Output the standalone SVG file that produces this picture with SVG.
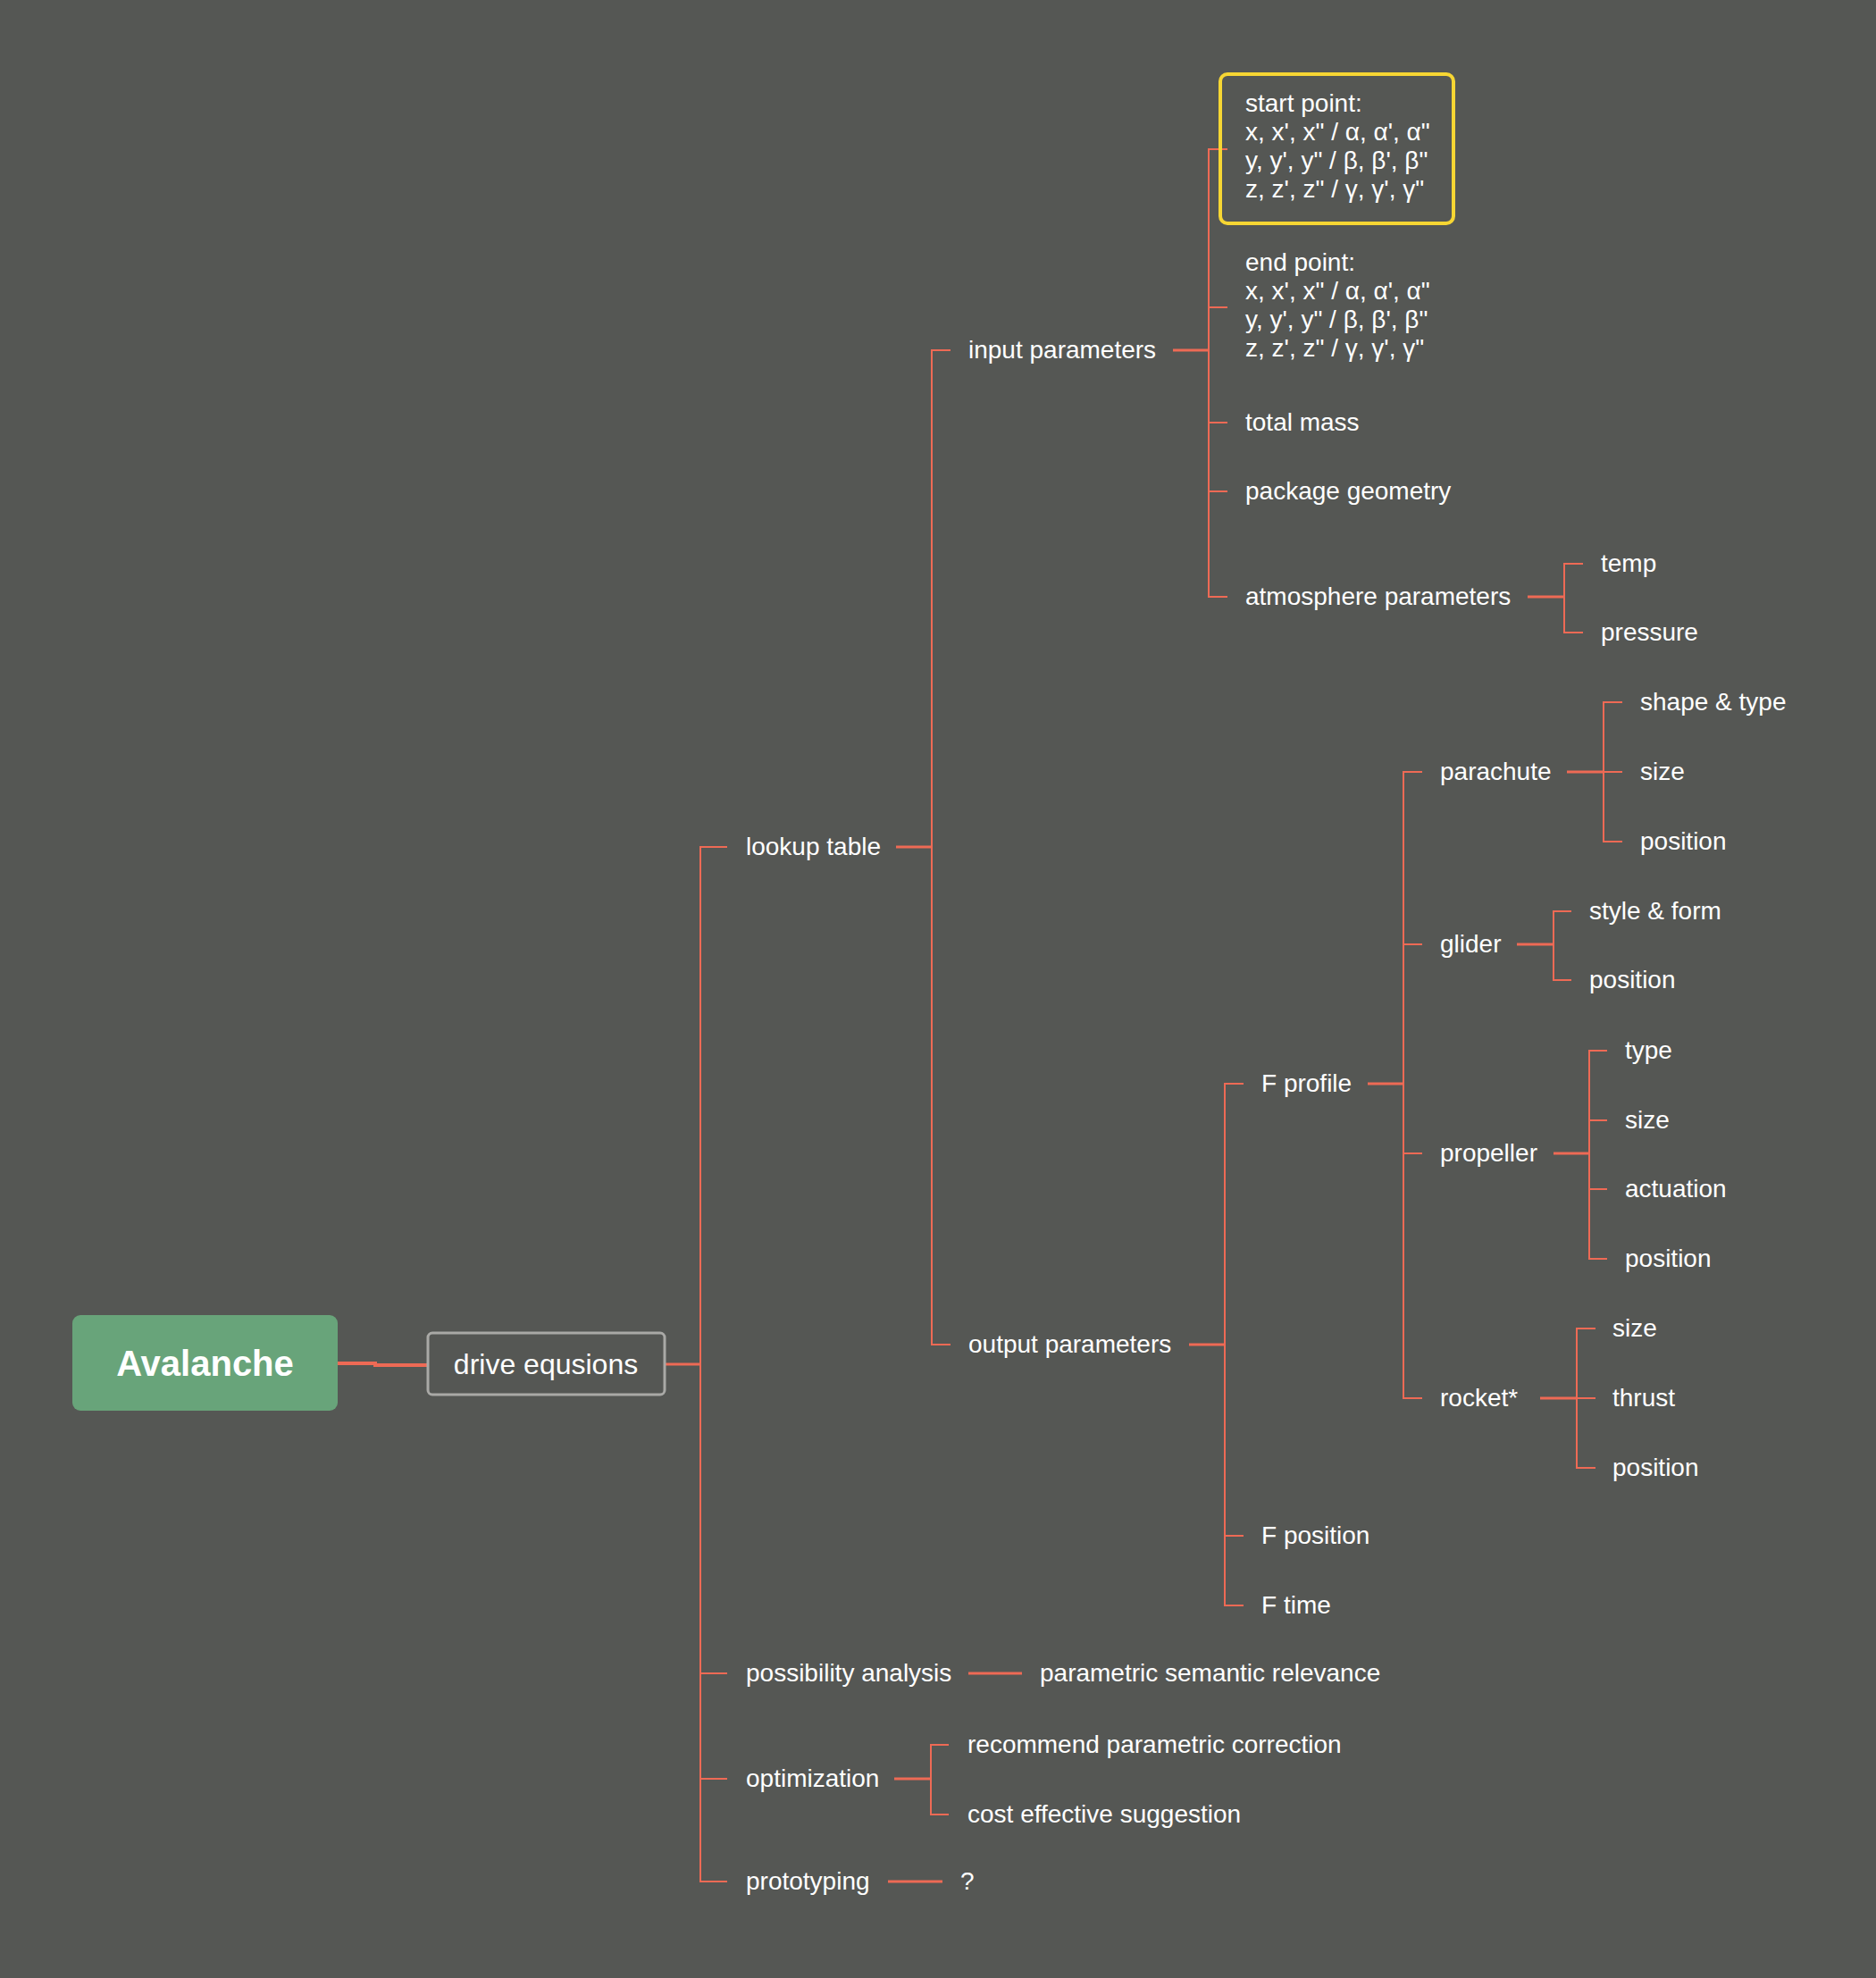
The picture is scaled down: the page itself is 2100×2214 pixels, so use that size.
<svg xmlns="http://www.w3.org/2000/svg" width="2100" height="2214" viewBox="0 0 2100 2214">
<style>
.t{font-family:"Liberation Sans",Arial,sans-serif;font-size:28px;fill:#FFFFFF}
.ln{fill:none;stroke:#EE6A55;stroke-width:2}
.lp{fill:none;stroke:#EE6A55;stroke-width:3}
</style>
<rect x="0" y="0" width="2100" height="2214" fill="#555754"/>
<g id="connectors">
<path class="ln" d="M378,1526 H420 V1528 H478" stroke-width="4" style="stroke-width:4"/>
<path class="lp" d="M744,1527 H784"/>
<path class="ln" d="M814,948 H784 V2106 H814 M784,1873 H814 M784,1991 H814"/>
<path class="lp" d="M1003,948 H1043"/>
<path class="ln" d="M1064,392 H1043 V1505 H1064"/>
<path class="lp" d="M1313,392 H1353"/>
<path class="ln" d="M1374,167 H1353 V668 H1374 M1353,344 H1374 M1353,473 H1374 M1353,550 H1374"/>
<path class="lp" d="M1710,668 H1751"/>
<path class="ln" d="M1772,631 H1751 V708 H1772"/>
<path class="lp" d="M1331,1505 H1371"/>
<path class="ln" d="M1392,1213 H1371 V1797 H1392 M1371,1719 H1392"/>
<path class="lp" d="M1531,1213 H1571"/>
<path class="ln" d="M1592,864 H1571 V1565 H1592 M1571,1057 H1592 M1571,1291 H1592"/>
<path class="lp" d="M1754,864 H1795"/>
<path class="ln" d="M1816,786 H1795 V942 H1816 M1795,864 H1816"/>
<path class="lp" d="M1698,1057 H1739"/>
<path class="ln" d="M1759,1020 H1739 V1097 H1759"/>
<path class="lp" d="M1739,1291 H1779"/>
<path class="ln" d="M1799,1176 H1779 V1409 H1799 M1779,1254 H1799 M1779,1331 H1799"/>
<path class="lp" d="M1724,1565 H1765"/>
<path class="ln" d="M1786,1487 H1765 V1643 H1786 M1765,1565 H1786"/>
<path class="lp" d="M1084,1873 H1144"/>
<path class="lp" d="M1001,1991 H1042"/>
<path class="ln" d="M1062,1953 H1042 V2031 H1062"/>
<path class="lp" d="M994,2106 H1055"/>
</g>
<g id="avalanche">
<rect x="81" y="1472" width="297" height="107" rx="9" fill="#68A47A"/>
<text x="229.5" y="1540" text-anchor="middle" style="font-family:'Liberation Sans',Arial,sans-serif;font-size:40px;font-weight:bold;fill:#FFFFFF">Avalanche</text>
</g>
<g id="drive-equsions">
<rect x="479" y="1492" width="265" height="69" rx="5" fill="#555754" stroke="#A9A9A6" stroke-width="3"/>
<text x="611" y="1538" text-anchor="middle" class="t" style="font-size:32px">drive equsions</text>
</g>
<g id="lookup-table"><text class="t" x="835" y="957">lookup table</text></g>
<g id="input-parameters"><text class="t" x="1084" y="401">input parameters</text></g>
<g id="start-point">
<rect x="1366" y="83" width="261" height="167" rx="8" fill="none" stroke="#F7D633" stroke-width="4"/>
<text class="t" x="1394" y="124.5">start point:</text>
<text class="t" x="1394" y="156.5">x, x', x" / α, α', α"</text>
<text class="t" x="1394" y="188.5">y, y', y" / β, β', β"</text>
<text class="t" x="1394" y="220.5">z, z', z" / γ, γ', γ"</text>
</g>
<g id="end-point">
<text class="t" x="1394" y="303">end point:</text>
<text class="t" x="1394" y="335">x, x', x" / α, α', α"</text>
<text class="t" x="1394" y="367">y, y', y" / β, β', β"</text>
<text class="t" x="1394" y="399">z, z', z" / γ, γ', γ"</text>
</g>
<g id="total-mass"><text class="t" x="1394" y="482">total mass</text></g>
<g id="package-geometry"><text class="t" x="1394" y="559">package geometry</text></g>
<g id="atmosphere-parameters"><text class="t" x="1394" y="677">atmosphere parameters</text></g>
<g id="temp"><text class="t" x="1792" y="640">temp</text></g>
<g id="pressure"><text class="t" x="1792" y="717">pressure</text></g>
<g id="output-parameters"><text class="t" x="1084" y="1514">output parameters</text></g>
<g id="f-profile"><text class="t" x="1412" y="1222">F profile</text></g>
<g id="parachute"><text class="t" x="1612" y="873">parachute</text></g>
<g id="parachute-shape-type"><text class="t" x="1836" y="795">shape &amp; type</text></g>
<g id="parachute-size"><text class="t" x="1836" y="873">size</text></g>
<g id="parachute-position"><text class="t" x="1836" y="951">position</text></g>
<g id="glider"><text class="t" x="1612" y="1066">glider</text></g>
<g id="glider-style-form"><text class="t" x="1779" y="1029">style &amp; form</text></g>
<g id="glider-position"><text class="t" x="1779" y="1106">position</text></g>
<g id="propeller"><text class="t" x="1612" y="1300">propeller</text></g>
<g id="propeller-type"><text class="t" x="1819" y="1185">type</text></g>
<g id="propeller-size"><text class="t" x="1819" y="1263">size</text></g>
<g id="propeller-actuation"><text class="t" x="1819" y="1340">actuation</text></g>
<g id="propeller-position"><text class="t" x="1819" y="1418">position</text></g>
<g id="rocket"><text class="t" x="1612" y="1574">rocket*</text></g>
<g id="rocket-size"><text class="t" x="1805" y="1496">size</text></g>
<g id="rocket-thrust"><text class="t" x="1805" y="1574">thrust</text></g>
<g id="rocket-position"><text class="t" x="1805" y="1652">position</text></g>
<g id="f-position"><text class="t" x="1412" y="1728">F position</text></g>
<g id="f-time"><text class="t" x="1412" y="1806">F time</text></g>
<g id="possibility-analysis"><text class="t" x="835" y="1882">possibility analysis</text></g>
<g id="parametric-semantic-relevance"><text class="t" x="1164" y="1882">parametric semantic relevance</text></g>
<g id="optimization"><text class="t" x="835" y="2000">optimization</text></g>
<g id="recommend-parametric-correction"><text class="t" x="1083" y="1962">recommend parametric correction</text></g>
<g id="cost-effective-suggestion"><text class="t" x="1083" y="2040">cost effective suggestion</text></g>
<g id="prototyping"><text class="t" x="835" y="2115">prototyping</text></g>
<g id="question"><text class="t" x="1075" y="2115">?</text></g>
</svg>
